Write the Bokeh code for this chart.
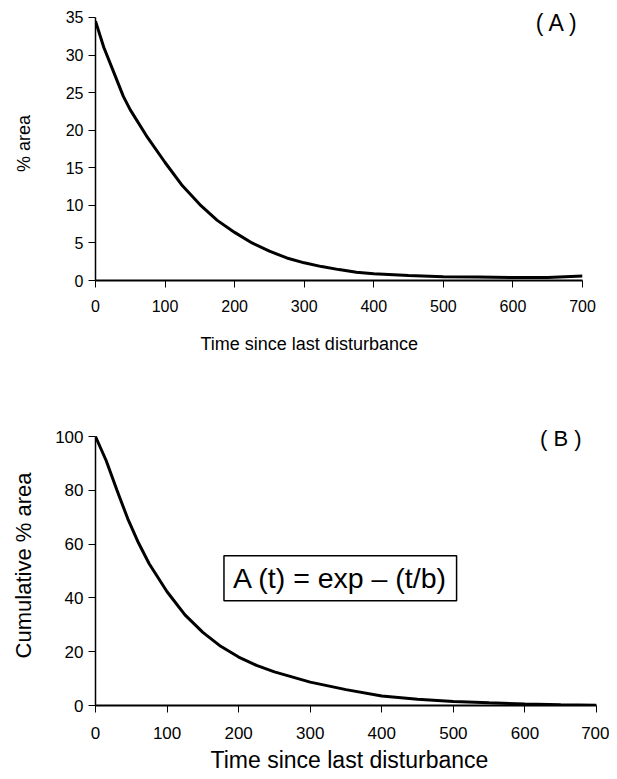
from bokeh.plotting import figure
from bokeh.models import Range1d, FixedTicker, Label, Title
from bokeh.layouts import column
from bokeh.embed import file_html
from bokeh.resources import INLINE

FONT = "Liberation Sans"

# Panel A: % area by time since last disturbance
t_a = [0, 12, 25, 40, 50, 75, 100, 125, 150, 175, 200, 225, 250, 275, 300, 325, 350, 375, 400,
       450, 500, 550, 600, 650, 700]
area_a = [34.5, 31.0, 28.0, 24.5, 22.7, 19.0, 15.7, 12.6, 10.1, 8.0, 6.4, 5.0, 3.9, 3.0, 2.35,
          1.85, 1.45, 1.1, 0.9, 0.65, 0.5, 0.45, 0.4, 0.4, 0.6]

# Panel B: cumulative % area
t_b = [0, 15, 30, 45, 60, 75, 100, 125, 150, 175, 200, 225, 250, 300, 350, 400, 450, 500, 550,
       600, 650, 700]
cum_b = [100, 91, 80, 69.5, 60.5, 52.7, 42.3, 33.7, 27.2, 22, 18, 14.9, 12.5, 8.7, 5.9, 3.5, 2.3,
         1.5, 1.0, 0.6, 0.3, 0.1]

x_ticks = [0, 100, 200, 300, 400, 500, 600, 700]
y_ticks_a = [0, 5, 10, 15, 20, 25, 30, 35]
y_ticks_b = [0, 20, 40, 60, 80, 100]

x_title = "Time since last disturbance"
y_title_a = "% area"
y_title_b = "Cumulative % area"
panel_a = "( A )"
panel_b = "( B )"
equation = "A (t) = exp \u2013 (t/b)"


def style(p, tick_size, title_size, ylab_standoff, xtick_standoff):
    p.outline_line_color = None
    p.grid.grid_line_color = None
    p.background_fill_color = "white"
    p.border_fill_color = "white"
    for ax in (p.xaxis, p.yaxis):
        ax.minor_tick_line_color = None
        ax.major_tick_in = 0
        ax.major_tick_out = 7
        ax.major_tick_line_color = "black"
        ax.major_tick_line_width = 1
        ax.axis_line_color = "black"
        ax.major_label_text_font = FONT
        ax.major_label_text_font_size = tick_size
        ax.major_label_text_color = "black"
        ax.axis_label_text_font = FONT
        ax.axis_label_text_font_size = title_size
        ax.axis_label_text_font_style = "normal"
        ax.axis_label_text_color = "black"
    p.xaxis.axis_line_width = 2
    p.yaxis.axis_line_width = 1.5
    p.yaxis.major_label_standoff = 5
    p.xaxis.major_label_standoff = xtick_standoff
    p.yaxis.axis_label_standoff = ylab_standoff


# ---------------- Panel A ----------------
pa = figure(frame_width=487, frame_height=274,
            min_border_left=95, min_border_right=27, min_border_top=6, min_border_bottom=100,
            x_range=Range1d(0, 700), y_range=Range1d(0, 36.46),
            output_backend="svg", toolbar_location=None,
            y_axis_label=y_title_a)
pa.xaxis.ticker = FixedTicker(ticks=x_ticks)
pa.yaxis.ticker = FixedTicker(ticks=y_ticks_a)
pa.yaxis.bounds = (0, 35)
style(pa, "16px", "18px", 29, 12)
pa.line(t_a, area_a, line_color="black", line_width=3)
pa.add_layout(Title(text=x_title, align="left", offset=105, text_font=FONT,
                    text_font_size="18px", text_font_style="normal", text_color="black",
                    standoff=34), "below")
pa.add_layout(Label(x=664, y=34.3, text=panel_a, text_font=FONT, text_font_size="23px",
                    text_align="center", text_baseline="middle", text_color="black"))

# ---------------- Panel B ----------------
pb = figure(frame_width=501, frame_height=280,
            min_border_left=93, min_border_right=15, min_border_top=45, min_border_bottom=73,
            x_range=Range1d(0, 700), y_range=Range1d(0, 104.1),
            output_backend="svg", toolbar_location=None,
            y_axis_label=y_title_b)
pb.xaxis.ticker = FixedTicker(ticks=x_ticks)
pb.yaxis.ticker = FixedTicker(ticks=y_ticks_b)
pb.yaxis.bounds = (0, 100)
style(pb, "17px", "22px", 16, 14)
pb.line(t_b, cum_b, line_color="black", line_width=3)
pb.add_layout(Title(text=x_title, align="left", offset=115, text_font=FONT,
                    text_font_size="23px", text_font_style="normal", text_color="black",
                    standoff=7), "below")
pb.add_layout(Label(x=650, y=99.3, text=panel_b, text_font=FONT, text_font_size="22px",
                    text_align="center", text_baseline="middle", text_color="black"))
pb.add_layout(Label(x=342, y=47.3, text=equation, text_font=FONT, text_font_size="28.5px",
                    text_align="center", text_baseline="middle", text_color="black",
                    border_line_color="black", border_line_width=1.5,
                    background_fill_color="white",
                    padding=dict(left=9, right=9, top=6, bottom=7)))

layout = column(pa, pb, spacing=0)
open("out.html", "w").write(file_html(layout, INLINE))
